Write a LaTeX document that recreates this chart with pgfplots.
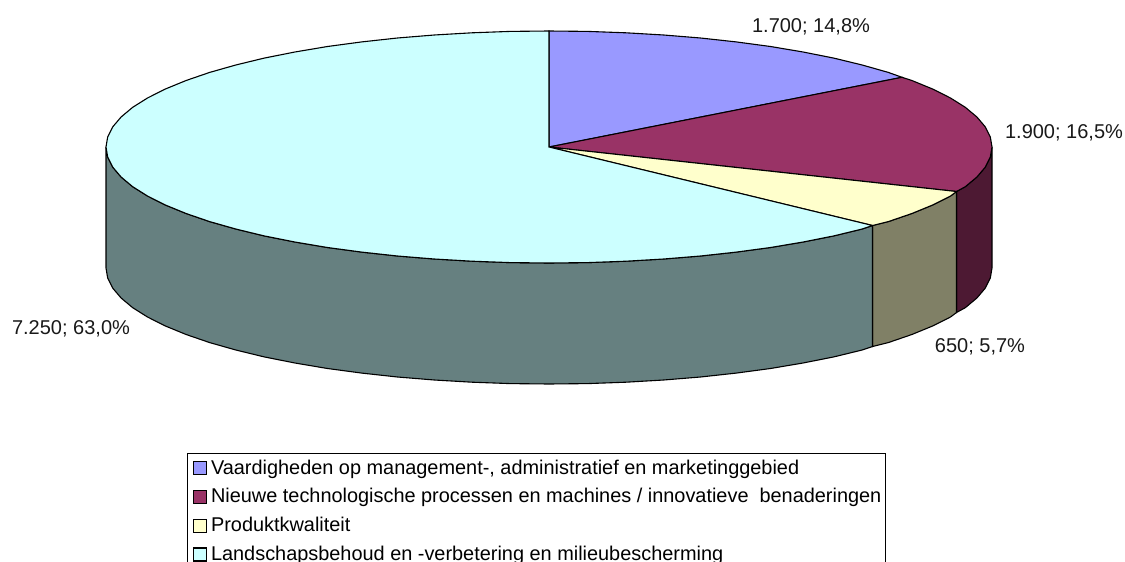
\documentclass[border=0pt]{standalone}
\usepackage{fontspec}
\setmainfont{Liberation Sans}
\usepackage{pgfplots}
\pgfplotsset{compat=1.18}

\definecolor{slicea}{HTML}{9999FF}
\definecolor{sliceb}{HTML}{993366}
\definecolor{slicec}{HTML}{FFFFCC}
\definecolor{sliced}{HTML}{CCFFFF}
\definecolor{sideb}{HTML}{4D1933}
\definecolor{sidec}{HTML}{808066}
\definecolor{sided}{HTML}{668080}

\begin{document}
\begin{tikzpicture}
  \useasboundingbox (0,0) rectangle (1125pt,562pt);
  \clip (0,0) rectangle (1125pt,562pt);
  \begin{axis}[
      at={(0,0)},
      anchor=south west,
      scale only axis,
      width=1125pt,
      height=562pt,
      xmin=0, xmax=1125,
      ymin=0, ymax=562,
      y dir=reverse,
      hide axis,
      legend cell align=left,
      legend image code/.code={
        \path[draw=none, fill=none] (0pt,0pt) -- (20pt,0pt);
        \draw[#1] (4.5pt,-6pt) rectangle (17.5pt,7pt);
      },
      legend style={
        at={(axis cs:186.5,453)},
        anchor=north west,
        draw=black,
        line width=1.1pt,
        font=\fontsize{19.9}{24}\selectfont,
        row sep=0pt,
        inner xsep=1.5pt,
        inner ysep=1pt,
        nodes={text height=15pt, text depth=4.5pt, inner ysep=4.6pt, inner xsep=2.5pt},
      },
  ]
  % side walls, darker shade of each slice
  \addplot[forget plot, fill=sideb, draw=black, line width=1.1pt] coordinates {
    (992,147) (990.3,157.1) (985.3,167.1) (976.9,177) (965.3,186.7) (956.5,191.5)
    (956.5,312.5) (965.3,307.7) (976.9,298) (985.3,288.1) (990.3,278.1) (992,268)
  } -- cycle;
  \addplot[forget plot, fill=sidec, draw=black, line width=1.1pt] coordinates {
    (956.5,191.5) (950.5,196) (932.6,205) (911.9,213.5) (888.3,221.6) (872.5,225.5)
    (872.5,346.5) (888.3,342.6) (911.9,334.5) (932.6,326) (950.5,317) (956.5,312.5)
  } -- cycle;
  \addplot[forget plot, fill=sided, draw=black, line width=1.1pt] coordinates {
    (872.5,225.5) (862.2,229) (833.8,235.9) (803.1,242) (770.5,247.5) (736.2,252.1)
    (700.5,256) (663.7,259) (625.9,261.2) (587.6,262.6) (549,263) (510.4,262.6)
    (472.1,261.2) (434.3,259) (397.5,256) (361.8,252.1) (327.5,247.5) (294.9,242)
    (264.2,235.9) (235.8,229) (209.7,221.6) (186.1,213.5) (165.4,205) (147.5,196)
    (132.7,186.7) (121.1,177) (112.7,167.1) (107.7,157.1) (106,147)
    (106,268) (107.7,278.1) (112.7,288.1) (121.1,298) (132.7,307.7) (147.5,317)
    (165.4,326) (186.1,334.5) (209.7,342.6) (235.8,350) (264.2,356.9) (294.9,363)
    (327.5,368.5) (361.8,373.1) (397.5,377) (434.3,380) (472.1,382.2) (510.4,383.6)
    (549,384) (587.6,383.6) (625.9,382.2) (663.7,380) (700.5,377) (736.2,373.1)
    (770.5,368.5) (803.1,363) (833.8,356.9) (862.2,350) (872.5,346.5)
  } -- cycle;

  % top of the pie: 1700, 1900, 650, 7250
  \addplot[fill=slicea, draw=black, line width=1.1pt] coordinates {
    (549,147) (549,31) (587.6,31.4) (625.9,32.8) (663.7,35) (700.5,38) (736.2,41.9)
    (770.5,46.5) (803.1,52) (833.8,58.1) (862.2,65) (888.3,72.4) (902,77.3)
  } -- cycle;
  \addlegendentry{Vaardigheden op management-, administratief en marketinggebied}
  \addplot[fill=sliceb, draw=black, line width=1.1pt] coordinates {
    (549,147) (902,77.3) (911.9,80.5) (932.6,89) (950.5,98) (965.3,107.3) (976.9,117)
    (985.3,126.9) (990.3,136.9) (992,147) (990.3,157.1) (985.3,167.1) (976.9,177)
    (965.3,186.7) (956.5,191.5)
  } -- cycle;
  \addlegendentry{Nieuwe technologische processen en machines / innovatieve\ \ benaderingen}
  \addplot[fill=slicec, draw=black, line width=1.1pt] coordinates {
    (549,147) (956.5,191.5) (950.5,196) (932.6,205) (911.9,213.5) (888.3,221.6) (872.5,225.5)
  } -- cycle;
  \addlegendentry{Produktkwaliteit}
  \addplot[fill=sliced, draw=black, line width=1.1pt] coordinates {
    (549,147) (872.5,225.5) (862.2,229) (833.8,235.9) (803.1,242) (770.5,247.5) (736.2,252.1)
    (700.5,256) (663.7,259) (625.9,261.2) (587.6,262.6) (549,263) (510.4,262.6)
    (472.1,261.2) (434.3,259) (397.5,256) (361.8,252.1) (327.5,247.5) (294.9,242)
    (264.2,235.9) (235.8,229) (209.7,221.6) (186.1,213.5) (165.4,205) (147.5,196)
    (132.7,186.7) (121.1,177) (112.7,167.1) (107.7,157.1) (106,147) (107.7,136.9)
    (112.7,126.9) (121.1,117) (132.7,107.3) (147.5,98) (165.4,89) (186.1,80.5)
    (209.7,72.4) (235.8,65) (264.2,58.1) (294.9,52) (327.5,46.5) (361.8,41.9)
    (397.5,38) (434.3,35) (472.1,32.8) (510.4,31.4) (549,31)
  } -- cycle;
  \addlegendentry{Landschapsbehoud en -verbetering en milieubescherming}

  % data labels
  \node[font=\fontsize{20}{24}\selectfont, text=black!90] at (axis cs:811,27) {1.700; 14,8\%};
  \node[font=\fontsize{20}{24}\selectfont, text=black!90] at (axis cs:1064,132.5) {1.900; 16,5\%};
  \node[font=\fontsize{20}{24}\selectfont, text=black!90] at (axis cs:980,346.5) {650; 5,7\%};
  \node[font=\fontsize{20}{24}\selectfont, text=black!90] at (axis cs:71,328.5) {7.250; 63,0\%};
  \end{axis}
\end{tikzpicture}
\end{document}
